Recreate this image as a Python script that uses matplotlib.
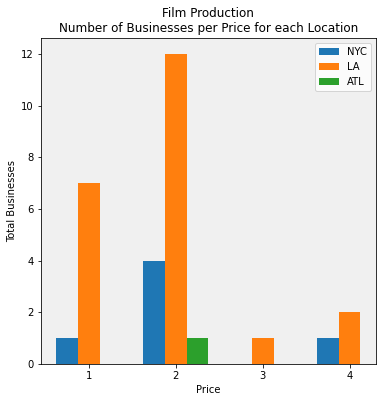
import matplotlib
matplotlib.use("Agg")
import matplotlib.pyplot as plt
import numpy as np

prices = [1, 2, 3, 4]
nyc = [1, 4, 0, 1]
la = [7, 12, 1, 2]
atl = [0, 1, 0, 0]

fig = plt.figure(figsize=(382/72, 402/72), dpi=72)
ax = fig.add_axes([41/382, 38/402, (375.7-41)/382, (364-38.3)/402])
ax.set_facecolor('#f0f0f0')
x = np.array(prices, dtype=float)
w = 0.25
ax.bar(x - w, nyc, w, label='NYC', color='#1f77b4')
ax.bar(x, la, w, label='LA', color='#ff7f0e')
ax.bar(x + w, atl, w, label='ATL', color='#2ca02c')
ax.set_xticks(x)
ax.set_xticklabels([str(p) for p in prices])
ax.set_xlim(0.45, 4.3)
ax.set_ylim(0, 12.6)
ax.set_xlabel('Price')
ax.set_ylabel('Total Businesses')
ax.set_title('Film Production\nNumber of Businesses per Price for each Location')
ax.legend(loc='upper right')
fig.savefig('out.png', dpi=72)
